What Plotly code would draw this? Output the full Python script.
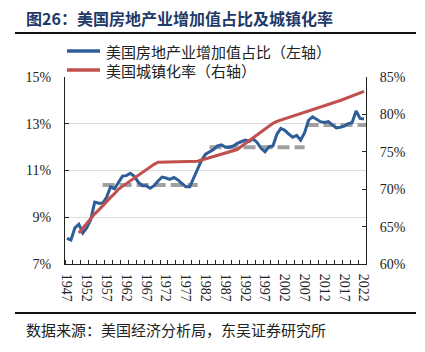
import plotly.graph_objects as go

years = list(range(1947, 2023))
re_share = [8.10, 8.03, 8.55, 8.70, 8.32, 8.55, 8.90, 9.65, 9.60, 9.60,
            9.85, 10.30, 10.22, 10.50, 10.76, 10.78, 10.88, 10.75, 10.50, 10.35,
            10.35, 10.24, 10.35, 10.55, 10.72, 10.68, 10.62, 10.70, 10.60, 10.45,
            10.30, 10.30, 10.70, 11.12, 11.45, 11.70, 11.80, 11.90, 12.05, 12.10,
            12.00, 12.00, 12.05, 12.16, 12.23, 12.30, 12.25, 12.35, 12.20, 11.95,
            11.80, 12.02, 12.05, 12.55, 12.80, 12.72, 12.56, 12.42, 12.50, 12.30,
            12.62, 13.15, 13.30, 13.19, 13.09, 13.05, 13.09, 12.95, 12.82, 12.85,
            12.90, 13.00, 13.05, 13.55, 13.23, 13.20]

urban_years = list(range(1950, 2023))
urban_rate = [64.15, 64.80, 65.40, 66.00, 66.70, 67.20, 67.80, 68.30, 68.90, 69.40,
              70.00, 70.38, 70.76, 71.13, 71.51, 71.88, 72.25, 72.61, 72.97, 73.33,
              73.60, 73.61, 73.62, 73.63, 73.64, 73.65, 73.66, 73.67, 73.68, 73.69,
              73.74, 73.90, 74.06, 74.21, 74.37, 74.53, 74.68, 74.84, 75.00, 75.15,
              75.30, 75.70, 76.10, 76.40, 76.80, 77.30, 77.60, 78.00, 78.40, 78.80,
              79.06, 79.23, 79.41, 79.58, 79.76, 79.93, 80.10, 80.27, 80.44, 80.61,
              80.77, 80.94, 81.12, 81.30, 81.48, 81.67, 81.86, 82.06, 82.26, 82.46,
              82.66, 82.87, 83.08]

# period averages of the real-estate share (start year, end year, value)
avg_start = [1956, 1983, 2007.5]
avg_end = [1980, 2007, 2022.5]
avg_value = [10.38, 12.00, 12.95]

tick_years = list(range(1947, 2023, 5))
left_ticks = [7, 9, 11, 13, 15]

BLUE = "#2f5d98"
RED = "#c0504d"
GRAY = "#a0a0a0"
SERIF = "Liberation Serif, Times New Roman, serif"
CJK = "Noto Sans CJK SC"

fig = go.Figure()

for s, e, v in zip(avg_start, avg_end, avg_value):
    fig.add_trace(go.Scatter(x=[s, e], y=[v, v], mode="lines",
                             line=dict(color=GRAY, width=4, dash="12px,5px"),
                             showlegend=False, hoverinfo="skip"))

fig.add_trace(go.Scatter(x=urban_years, y=urban_rate, mode="lines", yaxis="y2",
                         line=dict(color=RED, width=3), showlegend=False))
fig.add_trace(go.Scatter(x=years, y=re_share, mode="lines",
                         line=dict(color=BLUE, width=3), showlegend=False))

fig.update_layout(
    width=425, height=352,
    margin=dict(l=65, r=59, t=77, b=88),
    paper_bgcolor="white", plot_bgcolor="white",
    xaxis=dict(range=[1946.5, 2022.5], tickmode="array", tickvals=tick_years,
               ticktext=[str(y) for y in tick_years], tickangle=90,
               ticks="", showgrid=False, zeroline=False,
               showline=True, linecolor="#222", linewidth=1,
               tickfont=dict(family=SERIF, size=14, color="#222"),
               ticklabelstandoff=6,
               minor=dict(tick0=1946.5, dtick=2, ticks="inside", ticklen=4,
                          tickcolor="#222", showgrid=False)),
    yaxis=dict(range=[7, 15], tickmode="array", tickvals=left_ticks,
               ticktext=[f"{v}%" for v in left_ticks],
               ticks="inside", ticklen=4, tickcolor="#222",
               showgrid=True, gridcolor="#dcdcdc", gridwidth=1, zeroline=False,
               showline=True, linecolor="#222", linewidth=1,
               tickfont=dict(family=SERIF, size=14, color="#222"),
               ticklabelstandoff=10),
    yaxis2=dict(range=[60, 85], dtick=5, overlaying="y", side="right",
                ticksuffix="%", ticks="inside", ticklen=4, tickcolor="#222",
                showgrid=False, zeroline=False,
                showline=True, linecolor="#222", linewidth=1,
                tickfont=dict(family=SERIF, size=14, color="#222"),
                ticklabelstandoff=10),
    showlegend=False,
)

# title, rules and source
fig.add_annotation(text="<b>图26：美国房地产业增加值占比及城镇化率</b>",
                   xref="paper", yref="paper", x=(24 - 65) / 301, y=(264 - 18) / 187,
                   xanchor="left", yanchor="middle", showarrow=False,
                   font=dict(family=CJK, size=16, color="#1f3a68"))
for yy in [33, 313]:
    fig.add_shape(type="line", xref="paper", yref="paper",
                  x0=(15 - 65) / 301, x1=(416 - 65) / 301,
                  y0=(264 - yy) / 187, y1=(264 - yy) / 187,
                  line=dict(color="#111", width=2))
fig.add_annotation(text="数据来源：美国经济分析局，东吴证券研究所",
                   xref="paper", yref="paper", x=(24 - 65) / 301, y=(264 - 329) / 187,
                   xanchor="left", yanchor="middle", showarrow=False,
                   font=dict(family=CJK, size=15, color="#222"))

# legend (manual)
legend_items = [("美国房地产业增加值占比（左轴）", BLUE, 51),
                ("美国城镇化率（右轴）", RED, 70)]
for label, col, yy in legend_items:
    fig.add_shape(type="line", xref="paper", yref="paper",
                  x0=(67 - 65) / 301, x1=(100 - 65) / 301,
                  y0=(264 - yy) / 187, y1=(264 - yy) / 187,
                  line=dict(color=col, width=3.5))
    fig.add_annotation(text=label, xref="paper", yref="paper",
                       x=(104 - 65) / 301, y=(264 - yy) / 187,
                       xanchor="left", yanchor="middle", showarrow=False,
                       font=dict(family=CJK, size=15, color="#222"))

fig.write_html("out.html")
